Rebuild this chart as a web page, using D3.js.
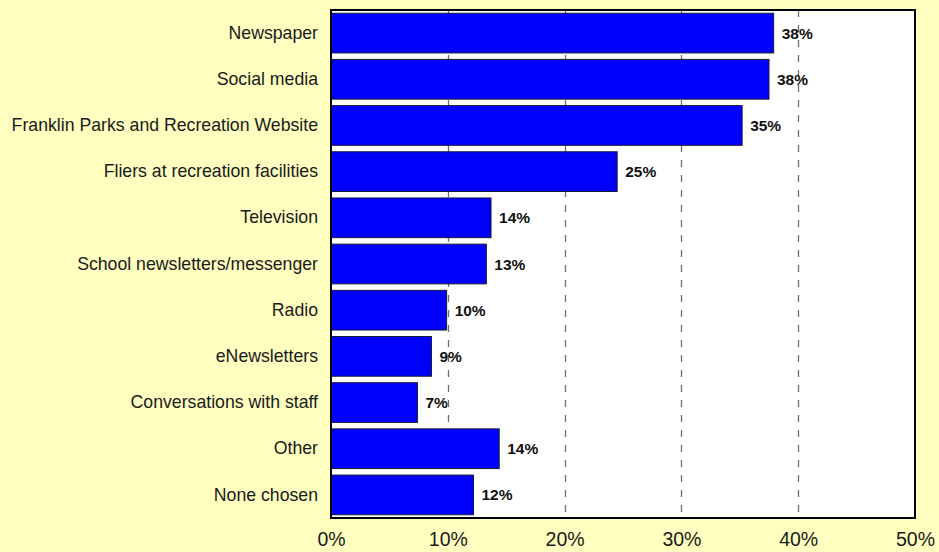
<!DOCTYPE html>
<html>
<head>
<meta charset="utf-8">
<script src="https://cdn.jsdelivr.net/npm/d3@7"></script>
<style>
    body { margin: 0; background: #ffffc0; }
    svg { display: block; font-family: "Liberation Sans", Arial, sans-serif; }
</style>
</head>
<body>
<div id="chart"></div>
<script>

var categories = [
    'Newspaper',
    'Social media',
    'Franklin Parks and Recreation Website',
    'Fliers at recreation facilities',
    'Television',
    'School newsletters/messenger',
    'Radio',
    'eNewsletters',
    'Conversations with staff',
    'Other',
    'None chosen'
];

var values = [37.9, 37.5, 35.2, 24.5, 13.7, 13.3, 9.9, 8.6, 7.4, 14.4, 12.2];

var tick_values = [0, 10, 20, 30, 40, 50];

var width = 939;
var height = 552;
var padding = {top: 10, bottom: 34, left: 331, right: 24};

var data = categories.map(function(c, i){ return {x: c, y: values[i]}; });

var svg = d3.select('#chart')
    .append('svg')
    .attr('width', width)
    .attr('height', height);

svg.append('rect')
    .attr('width', width)
    .attr('height', height)
    .attr('fill', '#ffffc0');

var x_scale = d3.scaleLinear()
    .domain([0, 50])
    .range([padding.left, width - padding.right]);

var y_scale = d3.scaleBand()
    .domain(categories)
    .range([padding.top, height - padding.bottom])
    .paddingInner(0.14)
    .paddingOuter(0.07);

// plot area
svg.append('rect')
    .attr('x', padding.left)
    .attr('y', padding.top)
    .attr('width', x_scale(50) - padding.left)
    .attr('height', height - padding.bottom - padding.top)
    .attr('fill', '#ffffff');

// dashed gridlines
svg.append('g')
    .selectAll('line')
    .data(tick_values.slice(1, -1))
    .enter()
    .append('line')
    .attr('x1', function(d){ return Math.round(x_scale(d)) + 0.5; })
    .attr('x2', function(d){ return Math.round(x_scale(d)) + 0.5; })
    .attr('y1', padding.top)
    .attr('y2', height - padding.bottom)
    .attr('stroke', '#6e6e6e')
    .attr('stroke-width', 1.3)
    .attr('stroke-dasharray', '7,8');

svg.append('g')
    .selectAll('rect.bar')
    .data(data)
    .enter()
    .append('rect')
    .attr('class', 'bar')
    .attr('x', x_scale(0))
    .attr('y', function(d){ return y_scale(d.x); })
    .attr('width', function(d){ return x_scale(d.y) - x_scale(0); })
    .attr('height', y_scale.bandwidth())
    .attr('fill', '#0000ff')
    .attr('stroke', '#1a1a33')
    .attr('stroke-width', 1);

svg.append('g')
    .selectAll('text.value')
    .data(data)
    .enter()
    .append('text')
    .attr('class', 'value')
    .attr('x', function(d){ return x_scale(d.y) + 8; })
    .attr('y', function(d){ return y_scale(d.x) + y_scale.bandwidth() / 2; })
    .attr('dy', '0.36em')
    .attr('font-size', '15.5px')
    .attr('font-weight', 'bold')
    .attr('fill', '#111')
    .text(function(d){ return Math.round(d.y) + '%'; });

// frame
svg.append('rect')
    .attr('x', padding.left)
    .attr('y', padding.top)
    .attr('width', x_scale(50) - padding.left)
    .attr('height', height - padding.bottom - padding.top)
    .attr('fill', 'none')
    .attr('stroke', '#000')
    .attr('stroke-width', 2);

var y_axis = d3.axisLeft(y_scale).tickSize(0).tickPadding(13);

svg.append('g')
    .attr('class', 'y axis')
    .attr('transform', 'translate(' + padding.left + ',0)')
    .call(y_axis)
    .call(function(g){ g.select('.domain').remove(); })
    .selectAll('text')
        .attr('font-size', '17.7px')
        .attr('font-family', '"Liberation Sans", Arial, sans-serif')
        .attr('fill', '#1a1a1a');

var x_axis = d3.axisBottom(x_scale)
    .tickValues(tick_values)
    .tickFormat(function(d){ return d + '%'; })
    .tickSize(0)
    .tickPadding(14);

svg.append('g')
    .attr('class', 'x axis')
    .attr('transform', 'translate(0,' + (height - padding.bottom) + ')')
    .call(x_axis)
    .call(function(g){ g.select('.domain').remove(); })
    .selectAll('text')
        .attr('font-size', '19.5px')
        .attr('font-family', '"Liberation Sans", Arial, sans-serif')
        .attr('fill', '#1a1a1a');

</script>
</body>
</html>
